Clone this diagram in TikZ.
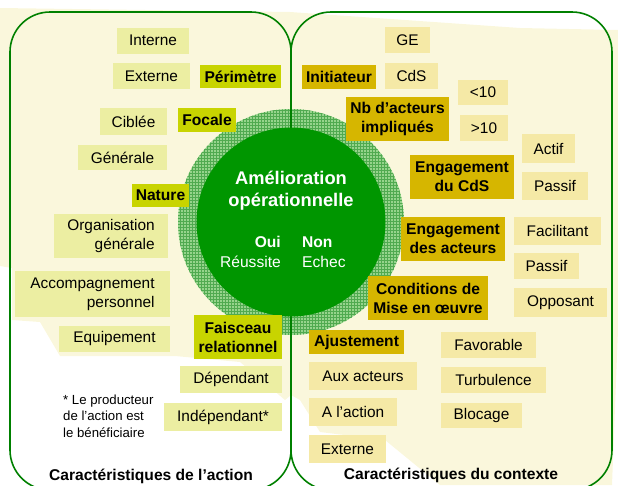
\documentclass[tikz,border=0pt]{standalone}
\usepackage{fontspec}
\setmainfont{Liberation Sans}
\usetikzlibrary{patterns}
\definecolor{frameg}{RGB}{0,128,0}
\definecolor{darkg}{RGB}{0,150,0}
\definecolor{ringg}{RGB}{150,212,140}
\definecolor{ringgrid}{RGB}{80,170,80}
\definecolor{bgyel}{RGB}{250,247,220}
\definecolor{vall}{RGB}{236,238,162}
\definecolor{valr}{RGB}{245,233,166}
\definecolor{critl}{RGB}{200,212,0}
\definecolor{critr}{RGB}{214,182,0}
\tikzset{
    frame/.style = {draw=frameg, line width=1.6pt, rounded corners=40pt},
    bx/.style 2 args = {minimum width=#1, minimum height=#2},
    valnodel/.style = {rectangle, fill=vall, inner sep=0pt, align=center, font=\fontsize{15.4}{19}\selectfont},
    valnoder/.style = {rectangle, fill=valr, inner sep=0pt, align=center, font=\fontsize{15.4}{19}\selectfont},
    critnodel/.style = {rectangle, fill=critl, inner sep=0pt, align=center, font=\fontsize{15.6}{19}\selectfont\bfseries},
    critnoder/.style = {rectangle, fill=critr, inner sep=0pt, align=center, font=\fontsize{15.6}{19}\selectfont\bfseries},
    centre/.style = {text=white, inner sep=0pt, align=center, font=\fontsize{18.3}{22}\selectfont\bfseries},
    centres/.style = {text=white, inner sep=0pt, font=\fontsize{15.6}{19}\selectfont},
    title/.style = {inner sep=0pt, font=\fontsize{15.6}{19}\selectfont\bfseries},
    note/.style = {inner sep=0pt, align=left, font=\fontsize{13.2}{16.5}\selectfont}
}
\begin{document}
\begin{tikzpicture}[x=1pt,y=-1pt]
\useasboundingbox (0,0) rectangle (618,485);
% fond
\fill[bgyel] (0,8) -- (290,12) -- (520,28) -- (618,30) -- (618,330) -- (612,485)
  -- (440,485) -- (385,440) -- (320,432) -- (300,400) -- (291,395) -- (285,400)
  -- (240,362) -- (175,356) -- (60,356) -- (40,322) -- (12,320) -- (12,268) -- (0,266) -- cycle;
\fill[ringg] (291,222) circle (113);
\path[pattern=grid, pattern color=ringgrid] (291,222) circle (113);
\draw[frame] (10,12) rectangle (291,490);
\draw[frame] (291,12) rectangle (612,490);
\fill[darkg] (291,222) circle (94.5);
%
\node[centre] at (291, 191) (amelio) {Amélioration\\opérationnelle};
\node[centres, anchor=east, font=\fontsize{15.6}{19}\selectfont\bfseries] at (281, 242) (oui) {Oui};
\node[centres, anchor=west, font=\fontsize{15.6}{19}\selectfont\bfseries] at (302, 242) (non) {Non};
\node[centres, anchor=east] at (281, 262) (reussite) {Réussite};
\node[centres, anchor=west] at (302, 262) (echec) {Echec};
%
\node[valnodel, bx={72}{26}] at (153, 40.5) (interne) {Interne};
\node[valnodel, bx={77}{26}] at (151.5, 76) (externel) {Externe};
\node[critnodel, bx={81}{23}] at (240.5, 76.5) (perimetre) {Périmètre};
\node[valnodel, bx={67}{27}] at (133.5, 121.5) (ciblee) {Ciblée};
\node[critnodel, bx={58}{24}] at (207, 120) (focale) {Focale};
\node[valnodel, bx={89}{25}] at (122.5, 157.5) (generale) {Générale};
\node[critnodel, bx={57}{23}] at (160.5, 195.5) (nature) {Nature};
\node[valnodel, bx={114}{44}] at (111, 236) (organis) {Organisation\\\hfill générale};
\node[valnodel, bx={155}{46}] at (92.5, 294) (accomp) {Accompagnement\\\hfill personnel};
\node[valnodel, bx={111}{26}] at (114.5, 339) (equip) {Equipement};
\node[critnodel, bx={88}{44}] at (238, 337) (faisceau) {Faisceau\\relationnel};
\node[valnodel, bx={102}{27}] at (231, 379.5) (dependant) {Dépendant};
\node[valnodel, bx={118}{28}] at (223, 417) (independant) {Indépendant*};
\node[note, anchor=west] at (63, 416) (renvoi) {* Le producteur\\de l’action est\\le bénéficiaire};
\node[title] at (151, 476) (titreg) {Caractéristiques de l’action};
%
\node[valnoder, bx={45}{26}] at (407.5, 40) (ge) {GE};
\node[critnoder, bx={74}{24}] at (339, 77) (initiateur) {Initiateur};
\node[valnoder, bx={53}{26}] at (411.5, 76) (cds) {CdS};
\node[valnoder, bx={50}{25}] at (483, 92.5) (infdix) {<10};
\node[critnoder, bx={103}{44}] at (397.5, 119) (nbact) {Nb d’acteurs\\impliqués};
\node[valnoder, bx={48}{26}] at (484, 128) (supdix) {>10};
\node[valnoder, bx={53}{29}] at (548.5, 148.5) (actif) {Actif};
\node[critnoder, bx={104}{44}] at (462, 177) (engcds) {Engagement\\du CdS};
\node[valnoder, bx={66}{28}] at (555, 186) (passifa) {Passif};
\node[critnoder, bx={104}{44}] at (453, 239) (engact) {Engagement\\des acteurs};
\node[valnoder, bx={87}{28}] at (557.5, 231) (facil) {Facilitant};
\node[valnoder, bx={65}{26}] at (546.5, 266) (passifb) {Passif};
\node[critnoder, bx={120}{44}] at (428, 298) (condit) {Conditions de\\Mise en œuvre};
\node[valnoder, bx={93}{29}] at (560.5, 302.5) (opposant) {Opposant};
\node[critnoder, bx={95}{24}] at (356.5, 342) (ajust) {Ajustement};
\node[valnoder, bx={95}{26}] at (488.5, 345) (favor) {Favorable};
\node[valnoder, bx={108}{28}] at (363, 376) (auxact) {Aux acteurs};
\node[valnoder, bx={105}{26}] at (493.5, 380) (turbul) {Turbulence};
\node[valnoder, bx={88}{28}] at (353, 412) (aaction) {A l’action};
\node[valnoder, bx={81}{25}] at (481.5, 415.5) (blocage) {Blocage};
\node[valnoder, bx={77}{28}] at (347.5, 449) (externer) {Externe};
\node[title] at (451, 475) (titred) {Caractéristiques du contexte};

\end{tikzpicture}
\end{document}
